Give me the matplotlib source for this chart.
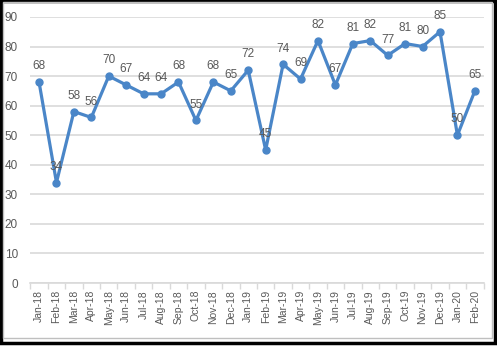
import matplotlib
matplotlib.use("Agg")
import matplotlib.pyplot as plt
from matplotlib.patches import Rectangle
import numpy as np

months = ["Jan-18", "Feb-18", "Mar-18", "Apr-18", "May-18", "Jun-18", "Jul-18", "Aug-18",
          "Sep-18", "Oct-18", "Nov-18", "Dec-18", "Jan-19", "Feb-19", "Mar-19", "Apr-19",
          "May-19", "Jun-19", "Jul-19", "Aug-19", "Sep-19", "Oct-19", "Nov-19", "Dec-19",
          "Jan-20", "Feb-20"]
values = [68, 34, 58, 56, 70, 67, 64, 64, 68, 55, 68, 65, 72, 45, 74, 69, 82, 67, 81, 82,
          77, 81, 80, 85, 50, 65]
yticks = [0, 10, 20, 30, 40, 50, 60, 70, 80, 90]

plt.rcParams['font.family'] = ['Liberation Sans', 'DejaVu Sans']

fig = plt.figure(figsize=(4.97, 3.46), dpi=100)
ax = fig.add_axes([0.061, 0.182, 0.912, 0.769])

x = np.arange(len(values))
line_color = "#4A86C8"
ax.plot(x, values, color=line_color, lw=2.3, marker="o", ms=5, zorder=3)
for xi, v in zip(x, values):
    ax.annotate(str(v), (xi, v), xytext=(0, 7), textcoords="offset points",
                ha="center", va="bottom", fontsize=8.5, color="#595959", zorder=4)

ax.set_xlim(-0.5, len(values) - 0.5)
ax.set_ylim(0, 90)
ax.set_yticks(yticks)
ax.set_yticklabels([str(t) for t in yticks], fontsize=8.5, color="#595959")
ax.set_xticks(x)
ax.set_xticklabels(months, rotation=90, fontsize=7.5, color="#595959")
ax.tick_params(axis="x", which="major", length=0, pad=5)
ax.set_xticks(np.arange(-0.5, len(values), 1.0), minor=True)
ax.tick_params(axis="x", which="minor", length=4, color="#d9d9d9", width=1)
ax.tick_params(axis="y", length=0, pad=9)
ax.yaxis.grid(True, color="#d9d9d9", lw=1.2)
ax.set_axisbelow(True)
for s in ["top", "right", "left"]:
    ax.spines[s].set_visible(False)
ax.spines["bottom"].set_color("#d9d9d9")
ax.spines["bottom"].set_linewidth(1.2)

# outer frame
fig.patches.append(Rectangle((0.002, 0.008), 0.993, 0.99, transform=fig.transFigure,
                             fill=False, edgecolor="black", lw=2.5))
fig.patches.append(Rectangle((0.006, 0.022), 0.983, 0.972, transform=fig.transFigure,
                             fill=False, edgecolor="#bfbfbf", lw=1.0))

fig.savefig("out.png", dpi=100)
